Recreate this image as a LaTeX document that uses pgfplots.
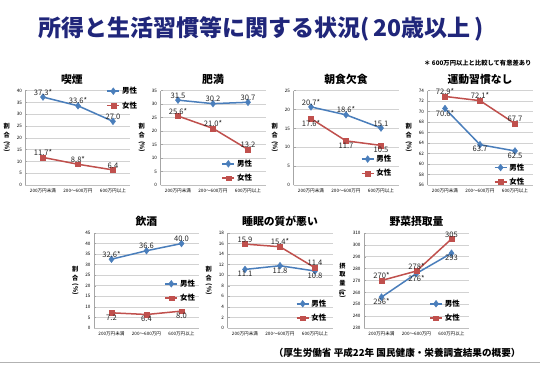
\documentclass[border=0pt]{standalone}
\usepackage{pgfplots}
\pgfplotsset{compat=1.18}
\usepackage{fontspec}
\setmainfont{Noto Sans CJK JP}
\definecolor{mblue}{RGB}{74,126,187}
\definecolor{fred}{RGB}{192,80,77}
\definecolor{navy}{RGB}{32,38,122}
\pgfplotsset{
 mini/.style={scale only axis, width=105pt, height=94.3pt, xmin=-0.5, xmax=2.5,
  xtick={0,1,2}, xticklabels={200万円未満,200～600万円,600万円以上},
  axis x line*=bottom, axis y line*=left, ymajorgrids,
  grid style={gray!35, line width=0.6pt},
  axis line style={gray!70, line width=0.6pt},
  x axis line style={gray!50},
  xtick style={draw=none},
  ytick style={gray!70, line width=0.5pt},
  major tick length=2pt,
  ticklabel style={font=\fontsize{4.6}{5}\selectfont},
  /pgf/number format/assume math mode=true,
  ylabel style={rotate=-90, font=\fontsize{6.2}{6.6}\selectfont\bfseries},
  title style={font=\fontsize{10.8}{12}\selectfont\bfseries, yshift=-3pt},
  legend style={draw=none, fill=none, font=\fontsize{7.5}{8}\selectfont\bfseries, row sep=2.5pt, inner sep=0pt, anchor=north west},
  legend cell align=left,
  legend image code/.code={\draw[mark repeat=2,mark phase=2] plot coordinates {(0pt,0pt)(6pt,0pt)(12pt,0pt)};},
  nodes near coords, point meta=explicit symbolic,
  every node near coord/.append style={font=\fontsize{7.6}{8}\selectfont, text=black!85, inner sep=1.6pt},
  clip=false,
 },
 male/.style={color=mblue, line width=1.5pt, mark=diamond*, mark size=3.4pt, mark options={line width=0.4pt}},
 female/.style={color=fred, line width=1.5pt, mark=square*, mark size=2.4pt, mark options={line width=0.4pt}},
 pct/.style={ylabel={\shortstack{割\\合\\\rotatebox{-90}{(\%)}}}},
}
\begin{document}
\begin{tikzpicture}
\path[use as bounding box] (0pt,0pt) rectangle (540pt,-364pt);
\fill[white] (0pt,0pt) rectangle (540pt,-364pt);
\node[font=\fontsize{23}{26}\selectfont\bfseries, text=navy] at (261pt,-29pt) {所得と生活習慣等に関する状況(\,20歳以上\,)};
\node[font=\fontsize{6.3}{7}\selectfont\bfseries, anchor=east] at (535pt,-63pt) {＊ 600万円以上と比較して有意差あり};
\node[font=\fontsize{9.6}{11}\selectfont\bfseries, anchor=east] at (524pt,-353pt) {（厚生労働省 平成22年 国民健康・栄養調査結果の概要）};
\draw[gray!60, line width=1.5pt] (0pt,-362.5pt) -- (540pt,-362.5pt);

% 1 喫煙
\begin{axis}[mini, pct, at={(25.5pt,-185pt)}, anchor=south west, ymin=0, ymax=40, ytick={0,5,...,40},
 title={喫煙}, title style={xshift=-6pt},
 legend style={at={(0.77,1.06)}}]
\addplot[male, nodes near coords align={above}] coordinates {(0,37.3) [37.3*] (1,33.6) [33.6*] (2,27.0) [27.0]};
\addplot[female, nodes near coords align={above}] coordinates {(0,11.7) [11.7*] (1,8.8) [8.8*] (2,6.4) [6.4]};
\legend{男性,女性}
\end{axis}

% 2 肥満
\begin{axis}[mini, pct, at={(160.5pt,-185pt)}, anchor=south west, ymin=0, ymax=35, ytick={0,5,...,35},
 title={肥満},
 legend style={at={(0.58,0.29)}}]
\addplot[male, nodes near coords align={above}] coordinates {(0,31.5) [31.5] (1,30.2) [30.2] (2,30.7) [30.7]};
\addplot[female, nodes near coords align={above}] coordinates {(0,25.6) [25.6*] (1,21.0) [21.0*] (2,13.2) [13.2]};
\legend{男性,女性}
\end{axis}

% 3 朝食欠食
\begin{axis}[mini, pct, at={(293.5pt,-185pt)}, anchor=south west, ymin=0, ymax=25, ytick={0,5,...,25},
 title={朝食欠食},
 legend style={at={(0.64,0.34)}}]
\addplot[male, nodes near coords align={above}] coordinates {(0,20.7) [20.7*] (1,18.6) [18.6*] (2,15.1) [15.1]};
\addplot[female, nodes near coords align={below}] coordinates {(0,17.6) [17.6*] (1,11.7) [11.7] (2,10.5) [10.5]};
\legend{男性,女性}
\end{axis}

% 4 運動習慣なし
\begin{axis}[mini, pct, at={(427.5pt,-185pt)}, anchor=south west, ymin=56, ymax=74, ytick={56,58,...,74},
 title={運動習慣なし},
 legend style={at={(0.63,0.25)}}]
\addplot[male, nodes near coords align={below}] coordinates {(0,70.6) [70.6*] (1,63.7) [63.7] (2,62.5) [62.5]};
\addplot[female, nodes near coords align={above}] coordinates {(0,72.9) [72.9*] (1,72.1) [72.1*] (2,67.7) [67.7]};
\legend{男性,女性}
\end{axis}

% 5 飲酒
\begin{axis}[mini, pct, at={(94pt,-328pt)}, anchor=south west, height=95pt, ymin=0, ymax=45, ytick={0,5,...,45},
 title={飲酒},
 legend style={at={(0.67,0.53)}}]
\addplot[male, nodes near coords align={above}] coordinates {(0,32.6) [32.6*] (1,36.6) [36.6] (2,40.0) [40.0]};
\addplot[female, nodes near coords align={below}] coordinates {(0,7.2) [7.2] (1,6.4) [6.4] (2,8.0) [8.0]};
\legend{男性,女性}
\end{axis}

% 6 睡眠の質が悪い
\begin{axis}[mini, pct, at={(227.5pt,-328pt)}, anchor=south west, height=95pt, ymin=0, ymax=18, ytick={0,2,...,18},
 title={睡眠の質が悪い},
 legend style={at={(0.65,0.32)}}]
\addplot[male, nodes near coords align={below}] coordinates {(0,11.1) [11.1] (1,11.8) [11.8] (2,10.8) [10.8]};
\addplot[female, nodes near coords align={above}] coordinates {(0,15.9) [15.9] (1,15.4) [15.4*] (2,11.4) [11.4]};
\legend{男性,女性}
\end{axis}

% 7 野菜摂取量
\begin{axis}[mini, at={(364pt,-328pt)}, anchor=south west, height=95pt, ymin=230, ymax=310, ytick={230,240,...,310},
 ylabel={\shortstack{摂\\取\\量\\\rotatebox{-90}{(g)}}},
 title={野菜摂取量},
 legend style={at={(0.62,0.32)}}]
\addplot[male, nodes near coords align={below}] coordinates {(0,256) [256*] (1,276) [276*] (2,293) [293]};
\addplot[female, nodes near coords align={above}] coordinates {(0,270) [270*] (1,278) [278*] (2,305) [305]};
\legend{男性,女性}
\end{axis}
\end{tikzpicture}
\end{document}
